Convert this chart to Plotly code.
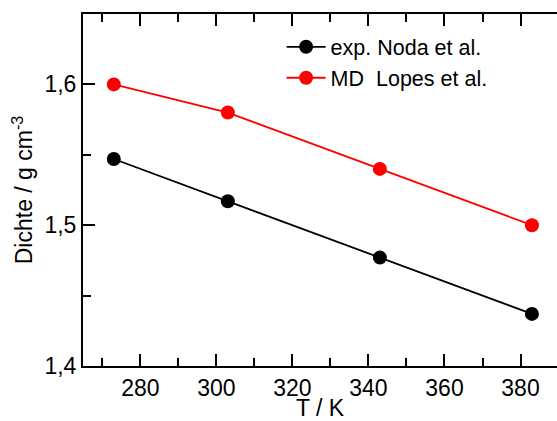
import plotly.graph_objects as go

temperature = [273, 303, 343, 383]
density_exp = [1.547, 1.517, 1.477, 1.437]
density_md = [1.600, 1.580, 1.540, 1.500]
series_names = ["exp. Noda et al.", "MD  Lopes et al."]
x_title = "T / K"
y_title = "Dichte / g cm<sup>-3</sup>"

FONT = "Liberation Sans, Arial, sans-serif"
X_RANGE = [264.9, 389.6]
Y_RANGE = [1.4, 1.65]

fig = go.Figure()
fig.add_trace(go.Scatter(x=temperature, y=density_exp, name=series_names[0],
                         mode="lines+markers",
                         line=dict(color="#000000", width=1.8),
                         marker=dict(color="#000000", size=14)))
fig.add_trace(go.Scatter(x=temperature, y=density_md, name=series_names[1],
                         mode="lines+markers",
                         line=dict(color="#ff0000", width=1.8),
                         marker=dict(color="#ff0000", size=14)))

axis_common = dict(showgrid=False, zeroline=False, ticks="inside", automargin=False,
                   tickcolor="#000", tickwidth=2, linecolor="#000", linewidth=2,
                   tickfont=dict(family=FONT, size=23, color="#000"))

fig.update_layout(
    width=557, height=421,
    margin=dict(l=83, r=0, t=14, b=55),
    paper_bgcolor="white", plot_bgcolor="white",
    separators=",.",
    showlegend=True,
    legend=dict(x=0.419, y=0.965, xanchor="left", yanchor="top",
                bgcolor="rgba(0,0,0,0)", font=dict(family=FONT, size=21.5, color="#000"),
                itemwidth=39, tracegroupgap=0),
    xaxis=dict(range=X_RANGE, tickmode="linear", tick0=280, dtick=20, ticklen=12,
               showline=True, mirror="ticks",
               minor=dict(ticks="inside", dtick=10, tick0=270, ticklen=8,
                          tickwidth=2, tickcolor="#000"),
               title=dict(text=x_title, font=dict(family=FONT, size=23, color="#000"),
                          standoff=7),
               **axis_common),
    yaxis=dict(range=Y_RANGE, tickmode="linear", tick0=1.4, dtick=0.1, ticklen=12,
               tickformat=".1f", showline=True, mirror=False,
               minor=dict(ticks="inside", dtick=0.05, ticklen=8,
                          tickwidth=2, tickcolor="#000"),
               title=dict(text=y_title, font=dict(family=FONT, size=23, color="#000"),
                          standoff=5),
               **axis_common),
    yaxis2=dict(range=Y_RANGE, overlaying="y", side="right", tickmode="linear",
                tick0=1.4, dtick=0.1, ticklen=12, showticklabels=False,
                showline=False, showgrid=False, zeroline=False, ticks="inside",
                tickcolor="#000", tickwidth=2, automargin=False,
                minor=dict(ticks="inside", dtick=0.05, ticklen=8,
                           tickwidth=2, tickcolor="#000")),
)

fig.write_html("out.html")
